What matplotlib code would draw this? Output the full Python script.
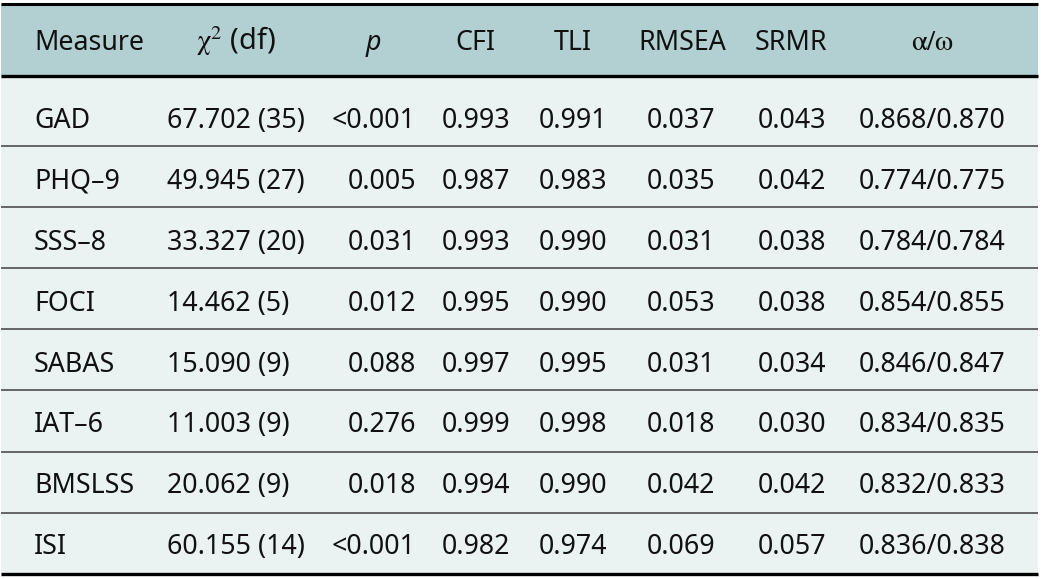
import matplotlib
matplotlib.use("Agg")
from matplotlib import pyplot as plt

plt.rcParams['font.family'] = ['Noto Sans', 'DejaVu Sans']
plt.rcParams['mathtext.fontset'] = 'stix'

# table content
headers = ["Measure", r"$\mathrm{\chi}^{2}$ (df)", "p", "CFI", "TLI", "RMSEA", "SRMR", r"$\mathrm{\alpha/\omega}$"]
measures = ["GAD", "PHQ\u20139", "SSS\u20138", "FOCI", "SABAS", "IAT\u20136", "BMSLSS", "ISI"]
chi2_df = ["67.702 (35)", "49.945 (27)", "33.327 (20)", "14.462 (5)",
           "15.090 (9)", "11.003 (9)", "20.062 (9)", "60.155 (14)"]
p_vals = ["<0.001", "0.005", "0.031", "0.012", "0.088", "0.276", "0.018", "<0.001"]
cfi = ["0.993", "0.987", "0.993", "0.995", "0.997", "0.999", "0.994", "0.982"]
tli = ["0.991", "0.983", "0.990", "0.990", "0.995", "0.998", "0.990", "0.974"]
rmsea = ["0.037", "0.035", "0.031", "0.053", "0.031", "0.018", "0.042", "0.069"]
srmr = ["0.043", "0.042", "0.038", "0.038", "0.034", "0.030", "0.042", "0.057"]
alpha_omega = ["0.868/0.870", "0.774/0.775", "0.784/0.784", "0.854/0.855",
               "0.846/0.847", "0.834/0.835", "0.832/0.833", "0.836/0.838"]

columns = [measures, chi2_df, p_vals, cfi, tli, rmsea, srmr, alpha_omega]

# layout (pixel units)
W, H = 1041, 579
head_x = [34, 236, 373, 475, 573, 682, 791, 932]
head_ha = ["left", "center", "center", "center", "center", "center", "center", "center"]
val_x = [34, 167, 416, 510, 607, 715, 826, 1006]
val_ha = ["left", "left", "right", "right", "right", "right", "right", "right"]
fs = 19.3

fig = plt.figure(figsize=(W / 100, H / 100), dpi=100)
ax = fig.add_axes([0, 0, 1, 1])
ax.set_xlim(0, W)
ax.set_ylim(H, 0)
ax.axis("off")

left, right = 1, 1038
top, head_bot = 4, 76
body_top = 77
first_h = 69
row_h = 61.1
bottom = 574

# backgrounds
ax.fill_between([left, right], top, head_bot, color="#b2d0d2", lw=0)
ax.fill_between([left, right], body_top, bottom, color="#eaf2f2", lw=0)

# rules
ax.plot([left, right], [top, top], color="black", lw=2.2, solid_capstyle="butt")
ax.plot([left, right], [head_bot, head_bot], color="black", lw=2.4, solid_capstyle="butt")
ax.plot([left, right], [bottom, bottom], color="black", lw=2.4, solid_capstyle="butt")

row_tops = [body_top] + [body_top + first_h + i * row_h for i in range(len(measures) - 1)]
for y in row_tops[1:]:
    ax.plot([left, right], [y, y], color="#5a5a5a", lw=1.3, solid_capstyle="butt")

# header text
for j, h in enumerate(headers):
    style = "italic" if h == "p" else "normal"
    size = fs + 1.5 if h.startswith("$") else fs
    ax.text(head_x[j], 50, h, ha=head_ha[j], va="baseline", fontsize=size,
            fontstyle=style, color="#111111")

# body text
for i in range(len(measures)):
    yb = 128 + i * 60.9
    for j, col in enumerate(columns):
        ax.text(val_x[j], yb, col[i], ha=val_ha[j], va="baseline", fontsize=fs,
                color="#111111")

fig.savefig("out.png", dpi=100)
